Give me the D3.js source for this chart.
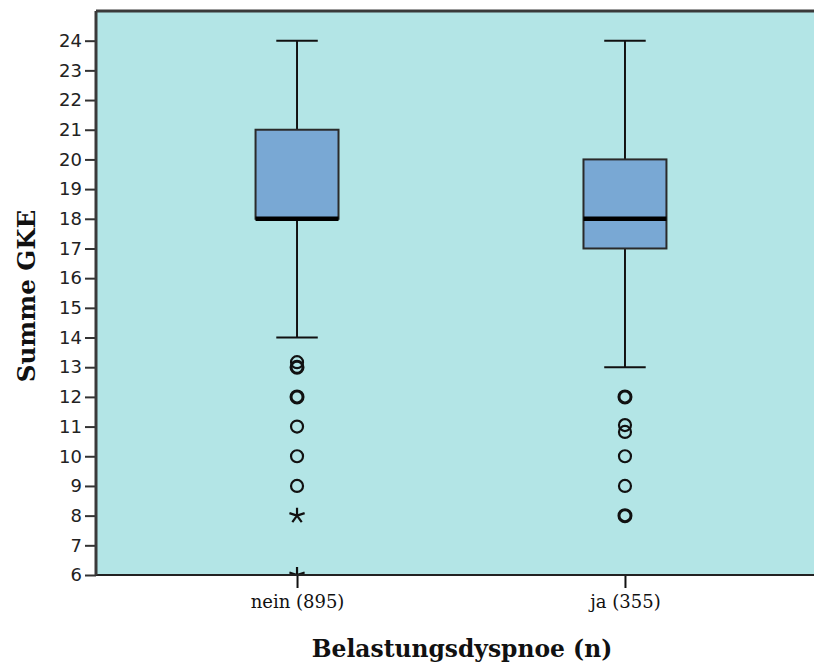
<!DOCTYPE html>
<html>
<head>
<meta charset="utf-8">
<script src="https://cdn.jsdelivr.net/npm/d3@7"></script>
<style>
  body { margin: 0; background: #fff; }
  svg { display: block; }
</style>
</head>
<body>
<svg id="chart" width="814" height="665"></svg>
<script>
// data
let categories = ["nein (895)", "ja (355)"];
let whiskerLow = [14, 13];
let q1 = [18, 17];
let median = [18, 18];
let q3 = [21, 20];
let whiskerHigh = [24, 24];
// outliers (o) -- n > 1 where several cases overlap
let outliers = [
    [{v: 13.17, n: 1}, {v: 13, n: 2}, {v: 12, n: 2}, {v: 11, n: 1}, {v: 10, n: 1}, {v: 9, n: 1}],
    [{v: 12, n: 2}, {v: 11.05, n: 1}, {v: 10.82, n: 1}, {v: 10, n: 1}, {v: 9, n: 1}, {v: 8, n: 2}]
];
// extreme values (*)
let extremes = [[8, 6], []];
let yTicks = d3.range(6, 25);

let svg = d3.select("#chart");
let margin = {top: 11, left: 96, bottom: 90, right: -12};
let width = 814 - margin.left - margin.right,
    height = 665 - margin.top - margin.bottom;

let g = svg.append("g")
    .attr("transform", "translate(" + margin.left + "," + margin.top + ")");

let y = d3.scaleLinear()
    .domain([6, 25])
    .range([height, 0]);

let x = d3.scalePoint()
    .domain(categories)
    .range([0, width])
    .padding(0.613);

let boxW = x.step() * 0.253;

// plot background
g.append("rect")
    .attr("width", width)
    .attr("height", height)
    .attr("fill", "#b3e5e6");

g.append("clipPath").attr("id", "clip")
    .append("rect")
    .attr("width", width)
    .attr("height", height);

// boxes
let box = g.selectAll(".box")
    .data(categories)
    .enter().append("g")
    .attr("class", "box")
    .attr("transform", d => "translate(" + x(d) + ",0)");

box.append("line")
    .attr("y1", (d, i) => y(whiskerHigh[i]))
    .attr("y2", (d, i) => y(q3[i]))
    .attr("stroke", "#111").attr("stroke-width", 2);
box.append("line")
    .attr("y1", (d, i) => y(q1[i]))
    .attr("y2", (d, i) => y(whiskerLow[i]))
    .attr("stroke", "#111").attr("stroke-width", 2);
box.append("line")
    .attr("x1", -boxW / 4).attr("x2", boxW / 4)
    .attr("y1", (d, i) => y(whiskerHigh[i]))
    .attr("y2", (d, i) => y(whiskerHigh[i]))
    .attr("stroke", "#111").attr("stroke-width", 2);
box.append("line")
    .attr("x1", -boxW / 4).attr("x2", boxW / 4)
    .attr("y1", (d, i) => y(whiskerLow[i]))
    .attr("y2", (d, i) => y(whiskerLow[i]))
    .attr("stroke", "#111").attr("stroke-width", 2);

box.append("rect")
    .attr("x", -boxW / 2)
    .attr("width", boxW)
    .attr("y", (d, i) => y(q3[i]))
    .attr("height", (d, i) => y(q1[i]) - y(q3[i]))
    .attr("fill", "#79a8d4")
    .attr("stroke", "#2a2a2a")
    .attr("stroke-width", 2);

box.append("line")
    .attr("x1", -boxW / 2).attr("x2", boxW / 2)
    .attr("y1", (d, i) => y(median[i]))
    .attr("y2", (d, i) => y(median[i]))
    .attr("stroke", "#000").attr("stroke-width", 4.5);

// outliers
box.each(function(d, i) {
    d3.select(this).selectAll(".out")
        .data(outliers[i])
        .enter().append("circle")
        .attr("class", "out")
        .attr("cy", o => y(o.v))
        .attr("r", 6)
        .attr("fill", "none")
        .attr("stroke", "#111")
        .attr("stroke-width", o => o.n > 1 ? 3 : 2.2);
});

// extremes: five-armed asterisk
let starPath = (function() {
    let r = 8, p = "";
    for (let k = 0; k < 5; k++) {
        let a = -Math.PI / 2 + k * 2 * Math.PI / 5;
        p += "M0,0L" + (r * Math.cos(a)).toFixed(2) + "," + (r * Math.sin(a)).toFixed(2);
    }
    return p;
})();

let ext = g.append("g").attr("clip-path", "url(#clip)");
categories.forEach(function(c, i) {
    ext.selectAll(".ext" + i)
        .data(extremes[i])
        .enter().append("path")
        .attr("d", starPath)
        .attr("transform", v => "translate(" + x(c) + "," + y(v) + ")")
        .attr("stroke", "#111")
        .attr("stroke-width", 2.2)
        .attr("fill", "none");
});

// axes
let yAxis = g.append("g")
    .call(d3.axisLeft(y).tickValues(yTicks).tickSize(11).tickPadding(3).tickFormat(d3.format("d")));
yAxis.select(".domain").remove();
yAxis.selectAll(".tick line").attr("stroke", "#333").attr("stroke-width", 2);
yAxis.selectAll(".tick text")
    .attr("font-family", "DejaVu Sans")
    .attr("font-size", 18)
    .attr("fill", "#222");

let xAxis = g.append("g")
    .attr("transform", "translate(0," + height + ")")
    .call(d3.axisBottom(x).tickSize(13).tickPadding(7));
xAxis.select(".domain").remove();
xAxis.selectAll(".tick line").attr("stroke", "#111").attr("stroke-width", 2);
xAxis.selectAll(".tick text")
    .attr("font-family", "DejaVu Serif")
    .attr("font-size", 18)
    .attr("fill", "#111");

// frame
g.append("line").attr("x1", 0).attr("x2", width).attr("y1", 0).attr("y2", 0)
    .attr("stroke", "#3a3a3a").attr("stroke-width", 3);
g.append("line").attr("x1", 0).attr("x2", width).attr("y1", height).attr("y2", height)
    .attr("stroke", "#222").attr("stroke-width", 2);
g.append("line").attr("x1", 0).attr("x2", 0).attr("y1", 0).attr("y2", height)
    .attr("stroke", "#3a3a3a").attr("stroke-width", 3);

// titles
svg.append("text")
    .attr("x", 462)
    .attr("y", 657)
    .attr("text-anchor", "middle")
    .attr("font-family", "DejaVu Serif")
    .attr("font-weight", "bold")
    .attr("font-size", 23.4)
    .attr("fill", "#111")
    .text("Belastungsdyspnoe (n)");

svg.append("text")
    .attr("transform", "translate(35,296) rotate(-90)")
    .attr("text-anchor", "middle")
    .attr("font-family", "DejaVu Serif")
    .attr("font-weight", "bold")
    .attr("font-size", 24.5)
    .attr("fill", "#111")
    .text("Summe GKE");
</script>
</body>
</html>
